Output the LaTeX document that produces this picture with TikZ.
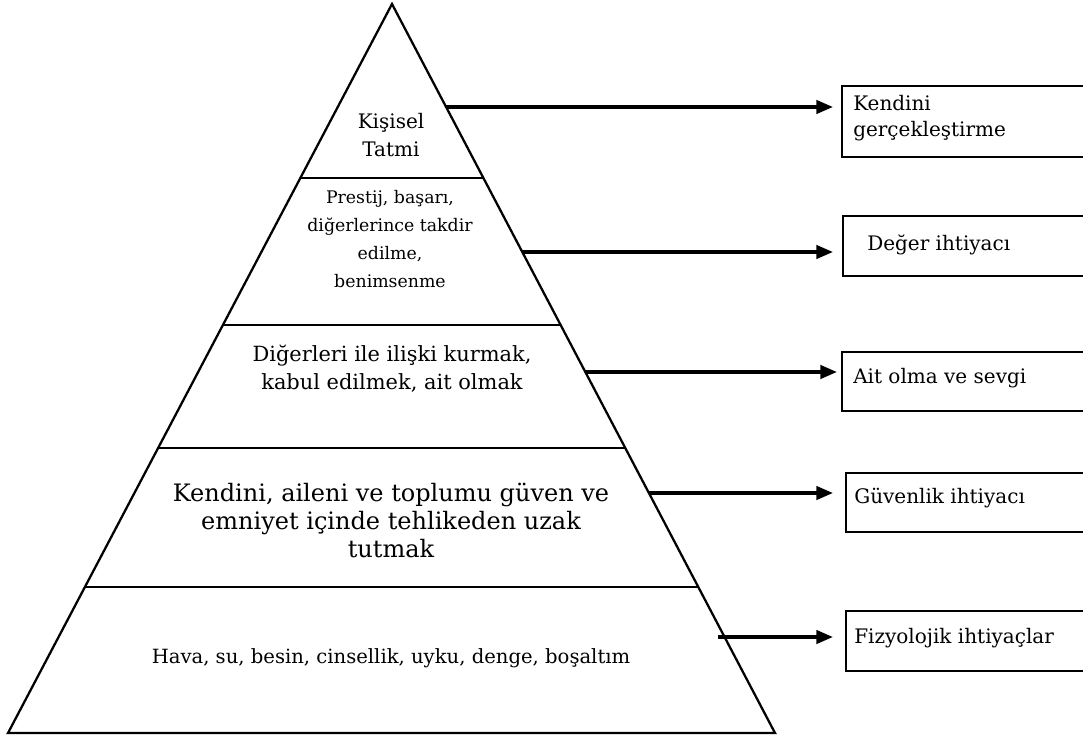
\documentclass[tikz,border=0pt]{standalone}
\usepackage{fontspec}
\setmainfont{DejaVu Serif}
\usetikzlibrary{calc,arrows.meta}
\begin{document}
\begin{tikzpicture}[x=0.75pt,y=-0.75pt,
  edge/.style={line width=1.7pt, line join=miter},
  conn/.style={line width=2.5pt, -{Triangle[length=12.5pt,width=10pt]}},
  box/.style={draw, line width=1.8pt, rectangle, anchor=north west, inner sep=0pt, minimum width=190pt},
  txt/.style={align=center, inner sep=0pt},
  btxt/.style={font=\fontsize{15}{21}\selectfont, inner sep=0pt, anchor=base west}]
\useasboundingbox (0,0) rectangle (1083,740);
% pyramid
\coordinate (A) at (392,4);
\coordinate (BL) at (8,733);
\coordinate (BR) at (775,733);
\draw[edge] (A) -- (BR) -- (BL) -- cycle;
\foreach \y/\n in {178/1,325/2,448/3,587/4}{
  \coordinate (l\n) at ($(A)!{(\y-4)/729}!(BL)$);
  \coordinate (r\n) at ($(A)!{(\y-4)/729}!(BR)$);
  \draw[edge] (l\n) -- (r\n);
}
% level texts
\node[txt, font=\fontsize{15}{21}\selectfont] (t1) at (391,135.5) {Kişisel\\Tatmi};
\node[txt, font=\fontsize{13}{21}\selectfont] (t2) at (390,239) {Prestij, başarı,\\diğerlerince takdir\\edilme,\\benimsenme};
\node[txt, font=\fontsize{15.7}{21}\selectfont] (t3) at (392,369) {Diğerleri ile ilişki kurmak,\\kabul edilmek, ait olmak};
\node[txt, font=\fontsize{18}{21}\selectfont] (t4) at (391,520) {Kendini, aileni ve toplumu güven ve\\emniyet içinde tehlikeden uzak\\tutmak};
\node[txt, anchor=base, font=\fontsize{14.7}{21}\selectfont] (t5) at (391,663) {Hava, su, besin, cinsellik, uyku, denge, boşaltım};
% boxes
\node[box, minimum height=53.25pt] (b1) at (841,85) {};
\node[box, minimum height=45pt] (b2) at (842,215) {};
\node[box, minimum height=44.25pt] (b3) at (841,351) {};
\node[box, minimum height=44.25pt] (b4) at (845,472) {};
\node[box, minimum height=45pt] (b5) at (845,610) {};
\node[btxt] (k1) at (853,110.5) {Kendini};
\node[btxt] (k1b) at (853,136.5) {gerçekleştirme};
\node[btxt] (k2) at (867,250.5) {Değer ihtiyacı};
\node[btxt] (k3) at (853,383) {Ait olma ve sevgi};
\node[btxt] (k4) at (854,503) {Güvenlik ihtiyacı};
\node[btxt] (k5) at (854,643) {Fizyolojik ihtiyaçlar};
% connectors
\coordinate (s1) at ($(A)!{(107-4)/729}!(BR)$);
\coordinate (s2) at ($(A)!{(252-4)/729}!(BR)$);
\coordinate (s3) at ($(A)!{(372-4)/729}!(BR)$);
\coordinate (s4) at ($(A)!{(493-4)/729}!(BR)$);
\coordinate (s5) at (718,637);
\draw[conn] (s1) -- ($(s1 -| b1.west)+(-8,0)$);
\draw[conn] (s2) -- ($(s2 -| b2.west)+(-9,0)$);
\draw[conn] (s3) -- ($(s3 -| b3.west)+(-4,0)$);
\draw[conn] (s4) -- ($(s4 -| b4.west)+(-12,0)$);
\draw[conn] (s5) -- ($(s5 -| b5.west)+(-12,0)$);
\end{tikzpicture}
\end{document}
